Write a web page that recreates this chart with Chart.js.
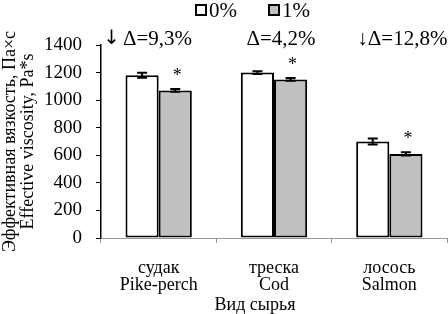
<!DOCTYPE html>
<html>
<head>
<meta charset="utf-8">
<script src="https://cdn.jsdelivr.net/npm/chart.js@4.4.0/dist/chart.umd.min.js"></script>
<style>
    html, body { margin: 0; padding: 0; background: #fff; }
    #wrap { width: 448px; height: 314px; }
</style>
</head>
<body>
<div id="wrap"><canvas id="chart" width="448" height="314"></canvas></div>
<script>
// Data
const categoriesRu = ['судак', 'треска', 'лосось'];
const categoriesEn = ['Pike-perch', 'Cod', 'Salmon'];
const seriesNames = ['0%', '1%'];
const values0 = [1180, 1200, 700];
const values1 = [1070, 1150, 610];
const errors0 = [18, 10, 22];
const errors1 = [10, 10, 12];
const deltaLabels = ['↓Δ=9,3%', 'Δ=4,2%', '↓Δ=12,8%'];
const significance = ['*', '*', '*'];
const yTicks = [0, 200, 400, 600, 800, 1000, 1200, 1400];
const xTitle = 'Вид сырья';

const FONT = "'Liberation Serif', 'Times New Roman', serif";
const errors = [errors0, errors1];

// Error bars drawn through the y scale
const errorBarPlugin = {
    id: 'errorBars',
    afterDatasetsDraw(chart) {
        const ctx = chart.ctx;
        const y = chart.scales.y;
        ctx.save();
        ctx.strokeStyle = '#000';
        ctx.lineWidth = 2;
        chart.data.datasets.forEach((ds, di) => {
            const meta = chart.getDatasetMeta(di);
            meta.data.forEach((bar, i) => {
                const top = y.getPixelForValue(ds.data[i] + errors[di][i]);
                const bot = y.getPixelForValue(ds.data[i] - errors[di][i]);
                ctx.beginPath();
                ctx.moveTo(bar.x, top);
                ctx.lineTo(bar.x, bot);
                ctx.moveTo(bar.x - 5, top);
                ctx.lineTo(bar.x + 5, top);
                ctx.moveTo(bar.x - 5, bot);
                ctx.lineTo(bar.x + 5, bot);
                ctx.stroke();
            });
        });
        ctx.restore();
    }
};

// Delta labels over groups, asterisks over the 1% bars, axis title
const deltaOffsets = [-11, 7, 13];
const boldArrow = [true, false, false];
const notesPlugin = {
    id: 'notes',
    afterDraw(chart) {
        const ctx = chart.ctx;
        const x = chart.scales.x;
        const y = chart.scales.y;
        const ty = chart.chartArea.top - 6;
        const arrowFont = '20px "DejaVu Sans"';
        const textFont = '21px ' + FONT;
        ctx.save();
        ctx.fillStyle = '#000';
        ctx.textBaseline = 'middle';
        ctx.textAlign = 'left';
        deltaLabels.forEach((txt, i) => {
            let arrow = '';
            let rest = txt;
            if (boldArrow[i] && txt.startsWith('↓')) {
                arrow = '↓';
                rest = txt.slice(1);
            }
            ctx.font = arrowFont;
            const aw = arrow ? ctx.measureText(arrow).width + 3 : 0;
            ctx.font = textFont;
            const rw = ctx.measureText(rest).width;
            const left = x.getPixelForValue(i) + deltaOffsets[i] - (aw + rw) / 2;
            if (arrow) {
                ctx.font = arrowFont;
                ctx.fillText(arrow, left, ty);
            }
            ctx.font = textFont;
            ctx.fillText(rest, left + aw, ty);
        });

        ctx.textAlign = 'center';
        const meta = chart.getDatasetMeta(1);
        ctx.font = '18px ' + FONT;
        meta.data.forEach((bar, i) => {
            const top = y.getPixelForValue(values1[i] + errors1[i]);
            ctx.fillText(significance[i], bar.x + 2, top - 13);
        });

        ctx.font = '18px ' + FONT;
        ctx.fillText(xTitle, 255, 305);
        ctx.restore();
    }
};

// Legend: small boxes tight to their labels
const legendPlugin = {
    id: 'smallLegend',
    afterDraw(chart) {
        const ctx = chart.ctx;
        const xs = [195, 268];
        ctx.save();
        ctx.font = '21px ' + FONT;
        ctx.textBaseline = 'middle';
        chart.data.datasets.forEach((ds, i) => {
            ctx.fillStyle = ds.backgroundColor;
            ctx.fillRect(xs[i] + 1, 5, 10, 10);
            ctx.strokeStyle = '#000';
            ctx.lineWidth = 2;
            ctx.strokeRect(xs[i] + 1, 5, 10, 10);
            ctx.fillStyle = '#000';
            ctx.fillText(ds.label, xs[i] + 14, 11);
        });
        ctx.restore();
    }
};

const ctx = document.getElementById('chart').getContext('2d');
new Chart(ctx, {
    type: 'bar',
    data: {
        labels: categoriesRu.map((c, i) => [c, categoriesEn[i]]),
        datasets: [
            {
                label: seriesNames[0],
                data: values0,
                backgroundColor: '#ffffff',
                borderColor: '#000',
                borderWidth: 2,
                borderSkipped: false
            },
            {
                label: seriesNames[1],
                data: values1,
                backgroundColor: '#c0c0c0',
                borderColor: '#000',
                borderWidth: 2,
                borderSkipped: false
            }
        ]
    },
    options: {
        responsive: false,
        animation: false,
        devicePixelRatio: 1,
        layout: { padding: { top: 45, right: 1, left: 0, bottom: 0 } },
        datasets: {
            bar: { barPercentage: 1, categoryPercentage: 0.575 }
        },
        plugins: {
            legend: { display: false },
            tooltip: { enabled: false }
        },
        scales: {
            x: {
                offset: true,
                grid: {
                    offset: true,
                    drawOnChartArea: false,
                    color: '#999',
                    tickLength: 5
                },
                border: { color: '#999', width: 1 },
                ticks: {
                    color: '#000',
                    font: { family: FONT, size: 18, lineHeight: 0.95 },
                    padding: 17,
                    maxRotation: 0
                },
                afterFit(scale) { scale.height = 76; }
            },
            y: {
                min: 0,
                max: 1400,
                afterBuildTicks(scale) {
                    scale.ticks = yTicks.map(v => ({ value: v }));
                },
                grid: {
                    drawOnChartArea: false,
                    color: '#000',
                    tickLength: 5
                },
                border: { color: '#000', width: 1.5 },
                ticks: {
                    color: '#000',
                    font: { family: FONT, size: 19 },
                    padding: 14,
                    callback: v => String(v)
                },
                title: {
                    display: true,
                    text: ['Эффективная вязкость, Па×с', 'Effective viscosity, Pa*s'],
                    color: '#000',
                    font: { family: FONT, size: 18, lineHeight: 1.0 },
                    padding: { top: 1, bottom: 0 }
                },
                afterFit(scale) { scale.width = 101; }
            }
        }
    },
    plugins: [errorBarPlugin, notesPlugin, legendPlugin]
});
</script>
</body>
</html>
